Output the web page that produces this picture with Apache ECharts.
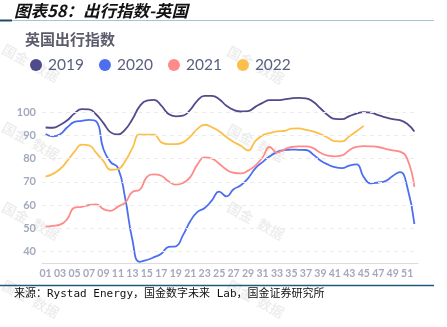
<!DOCTYPE html>
<html><head><meta charset="utf-8">
<script src="https://cdn.jsdelivr.net/npm/echarts@6/dist/echarts.min.js"></script>
<style>html,body{margin:0;padding:0;background:#fff}#c{width:447px;height:327px}</style>
</head><body><div id="c"></div>
<script>
const weeks = ['01','02','03','04','05','06','07','08','09','10','11','12','13','14','15','16','17','18','19','20','21','22','23','24','25','26','27','28','29','30','31','32','33','34','35','36','37','38','39','40','41','42','43','44','45','46','47','48','49','50','51','52'];
const s2019 = [93.4,93.3,94.5,96.5,99.5,101.3,101.2,99,95.3,91.3,90.4,92.5,97,102.5,105,105.3,102.8,99.2,98.2,98.5,101,105,107,107,105.6,102.8,101,100.3,100.5,102.3,104,105.2,105.2,105.5,106,106.2,106,104.5,101.7,98.8,97.1,97,98.3,99.4,100,99.8,98.7,97.8,97,96.6,95,91.7];
const s2020 = [90.6,89.6,90.5,93.5,95.8,96.3,96.7,96,84,78.5,76,63,45,35.5,36.3,37.5,39,41.9,42.2,47,53,57,58.7,62,65.8,63.7,66.8,68.5,71.5,75.8,78.5,81,82.8,83.7,83.9,83.8,83.7,81.8,79.2,77.5,76.3,75.9,77,77.5,72,69.3,69.7,70.3,72.5,74.2,68,51.8];
const s2021 = [50.7,51,51.5,54,58.9,59.2,60,60.3,58.2,57.5,59.3,61,65.6,66.5,72,73.2,72.6,70.2,68.8,69.5,72,77.5,80.5,80,77.8,75.3,73.9,73.6,74.8,77,80.5,85,82.6,83.9,85,85.3,85.3,84.5,82.5,81.3,81,81.4,83.6,85.1,85.4,85.3,85,84.2,83.5,83,80,67.8];
const s2022 = [72.2,73.4,75.5,79,83,86,85.7,82.5,78.9,75.2,75.5,78.9,84.5,90.4,90.3,90.3,87,86.2,86.2,87,89.5,92.8,94.6,93.5,91.8,89.3,87.2,85.5,83.5,87.5,90,91,91.7,91.9,92.9,93,92.4,91.7,90.6,89.1,87.5,87.4,89.6,91.8,94.1];
const seriesNames = ['2019','2020','2021','2022'];
const yTicks = [40,50,60,70,80,90,100];

const colors = ['#4f4b8c','#4d6ef0','#ff8a8a','#fcbf49'];
const chart = echarts.init(document.getElementById('c'), null, {renderer:'canvas'});
const wm = [];
[[30,60],[255,62],[30,138],[255,140],[30,218],[255,218],[30,296],[255,296]].forEach(p=>{
  wm.push({type:'text', left:p[0]-30, top:p[1]-18, rotation:-0.5, silent:true, z:0,
    style:{text:'国金  数据', fill:'rgba(0,0,0,0.07)', font:'bold 14px "Noto Sans CJK SC"'}});
});
const mk = (data, i) => ({
  name: seriesNames[i], type:'line', data: data, smooth:true, showSymbol:false, symbol:'circle',
  lineStyle:{width:1.8, color:colors[i]}, itemStyle:{color:colors[i]}, z:3
});
const series = [mk(s2019,0), mk(s2020,1), mk(s2021,2), mk(s2022,3)];
series[0].markLine = {silent:true, symbol:'none', label:{show:false}, animation:false,
  lineStyle:{type:[4,4], color:'#ebebeb', width:1},
  data: yTicks.map(v=>({yAxis:v}))};
chart.setOption({
  animation:false,
  backgroundColor:'#fff',
  title:{text:'英国出行指数', left:20, top:27,
    textStyle:{fontSize:15, fontWeight:'bold', color:'#5c5c6c', fontFamily:'"Noto Sans CJK SC"'}},
  legend:{left:25, top:52, icon:'circle', itemWidth:12, itemHeight:12, itemGap:15,
    textStyle:{fontSize:15.5, color:'#5a5f80', fontFamily:'Lato', padding:[0,0,0,1]},
    data: seriesNames},
  grid:{left:42, right:29, top:89, bottom:64},
  xAxis:{type:'category', data:weeks, boundaryGap:true,
    axisLine:{lineStyle:{color:'#dcdcdc'}}, axisTick:{show:false},
    axisLabel:{interval:1, color:'#a3a8bd', fontSize:10.5, fontWeight:'bold', fontFamily:'Lato', margin:5}},
  yAxis:{type:'value', min:35, max:110, interval:5,
    axisLine:{show:false}, axisTick:{show:false}, splitLine:{show:false},
    axisLabel:{color:'#a3a8bd', fontSize:11, fontWeight:'bold', fontFamily:'Lato', margin:6,
      formatter: v => (yTicks.indexOf(v) >= 0 ? String(v) : '')}},
  graphic: wm.concat([
    {type:'text', left:14, top:2, silent:true,
      style:{text:'图表58：出行指数-英国', fill:'#111', font:'italic bold 16.5px "Noto Sans CJK SC"'}},
    {type:'line', silent:true, shape:{x1:0,y1:20.5,x2:434,y2:20.5}, style:{stroke:'#a9c3d2', lineWidth:1.2}},
    {type:'line', silent:true, shape:{x1:0,y1:20.5,x2:12,y2:20.5}, style:{stroke:'#1f4a6a', lineWidth:2}},
    {type:'line', silent:true, shape:{x1:0,y1:285.5,x2:434,y2:285.5}, style:{stroke:'#1f5a7c', lineWidth:1.5}},
    {type:'text', left:14, top:289, silent:true,
      style:{text:'来源：Rystad Energy，国金数字未来 Lab，国金证券研究所', fill:'#111',
        font:'11px "DejaVu Sans Mono", "Noto Sans CJK SC"'}}
  ]),
  series: series
});
</script></body></html>
